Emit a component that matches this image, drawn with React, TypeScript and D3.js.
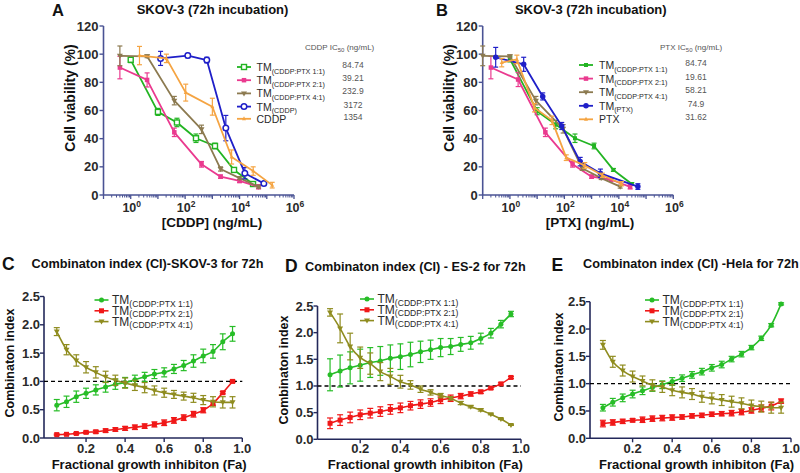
import React from 'react';
import * as d3 from 'd3';

const FONT = "'Liberation Sans', Arial, Helvetica, sans-serif";

// ---------------- Panel A: SKOV-3, [CDDP] (ng/mL) ----------------
const aConcTM11 = [1, 10, 50, 250, 1250, 6250, 31250];
const aViaTM11 = [96, 59, 51.5, 40.3, 34.8, 17.8, 7.8];
const aErrTM11 = [2, 2.5, 3, 3, 2, 1, 1];
const aConcTM21 = [0.4, 4, 40, 400, 2000, 10000, 50000];
const aViaTM21 = [90.5, 81.7, 44.5, 21.8, 13, 10, 5.8];
const aErrTM21 = [8, 5, 3, 2, 1.2, 1.2, 1.5];
const aConcTM41 = [0.4, 4, 40, 400, 2000, 10000, 50000];
const aViaTM41 = [98.8, 98.5, 67, 46.6, 18.5, 12, 5.9];
const aErrTM41 = [7, 1, 3, 3, 1.5, 1, 1];
const aConcTM = [12.5, 125, 625, 3125, 15625, 78125];
const aViaTM = [97, 99, 95.8, 47.5, 15.5, 8.2];
const aErrTM = [5, 1.5, 2, 9, 4, 1];
const aConcFree = [2.1, 20.5, 105, 1000, 5100, 31600, 158000];
const aViaFree = [99, 97, 72.7, 62.7, 27, 17, 7];
const aErrFree = [6.5, 3, 6, 6, 5, 3, 2];
const aLegendMain = ['TM', 'TM', 'TM', 'TM', 'CDDP'];
const aLegendSub = ['(CDDP:PTX 1:1)', '(CDDP:PTX 2:1)', '(CDDP:PTX 4:1)', '(CDDP)', ''];
const aIC50 = ['84.74', '39.21', '232.9', '3172', '1354'];

// ---------------- Panel B: SKOV-3, [PTX] (ng/mL) ----------------
const bConcTM11 = [1, 10, 48, 245, 1230, 6300, 30000];
const bViaTM11 = [96.5, 59.5, 50, 40.3, 34.8, 17.8, 7.8];
const bErrTM11 = [2, 2.5, 3, 3, 2, 1, 1];
const bConcTM21 = [0.2, 2, 20, 200, 1000, 5100, 26000];
const bViaTM21 = [90.5, 82, 44.5, 21.8, 13, 11, 5.8];
const bErrTM21 = [8, 5, 3, 2, 1.2, 1.2, 1.5];
const bConcTM41 = [0.1, 1, 9, 90, 450, 2250, 11200];
const bViaTM41 = [98.8, 98.5, 67, 47, 19, 12, 5.9];
const bErrTM41 = [7, 1, 3, 3, 1.5, 1, 1];
const bConcTM = [0.3, 3.2, 16, 80, 380, 2100, 50000];
const bViaTM = [97.8, 92.8, 70, 49, 23.7, 15.4, 6];
const bErrTM = [7, 5, 2.5, 2.5, 3, 3, 2];
const bConcFree = [0.5, 1.8, 8, 35, 117, 560, 2500, 12600];
const bViaFree = [94, 96.3, 62, 53, 26.5, 21, 14, 8];
const bErrFree = [3, 3, 3, 3, 2, 2, 1.5, 1.5];
const bLegendMain = ['TM', 'TM', 'TM', 'TM', 'PTX'];
const bLegendSub = ['(CDDP:PTX 1:1)', '(CDDP:PTX 2:1)', '(CDDP:PTX 4:1)', '(PTX)', ''];
const bIC50 = ['84.74', '19.61', '58.21', '74.9', '31.62'];

const viabilityTicks = [0, 20, 40, 60, 80, 100, 120];
const logLabelExps = [0, 2, 4, 6];

// ---------------- Panels C-E: combination index ----------------
const ciFa = [0.05, 0.1, 0.15, 0.2, 0.25, 0.3, 0.35, 0.4, 0.45, 0.5, 0.55, 0.6, 0.65, 0.7, 0.75, 0.8, 0.85, 0.9, 0.95];
const ciLegendSub = ['(CDDP:PTX 1:1)', '(CDDP:PTX 2:1)', '(CDDP:PTX 4:1)'];
const ciYTicks = [0, 0.5, 1, 1.5, 2, 2.5];
const ciXTicks = [0.2, 0.4, 0.6, 0.8, 1.0];

const cGreen = [0.58, 0.64, 0.73, 0.79, 0.85, 0.9, 0.95, 0.98, 1.03, 1.08, 1.13, 1.16, 1.22, 1.28, 1.36, 1.45, 1.53, 1.7, 1.84];
const cGreenErr = [0.1, 0.1, 0.1, 0.09, 0.09, 0.09, 0.09, 0.09, 0.08, 0.08, 0.08, 0.08, 0.08, 0.09, 0.11, 0.12, 0.12, 0.14, 0.13];
const cRed = [0.06, 0.065, 0.08, 0.1, 0.11, 0.13, 0.15, 0.17, 0.19, 0.21, 0.24, 0.27, 0.31, 0.36, 0.42, 0.49, 0.61, 0.8, 1.0];
const cRedErr = [0.01, 0.01, 0.015, 0.02, 0.025, 0.03, 0.03, 0.035, 0.04, 0.04, 0.045, 0.05, 0.05, 0.05, 0.05, 0.045, 0.03, 0.02, 0.02];
const cOlive = [1.88, 1.56, 1.37, 1.25, 1.16, 1.08, 1.02, 0.97, 0.93, 0.89, 0.84, 0.8, 0.77, 0.74, 0.71, 0.67, 0.64, 0.63, 0.63];
const cOliveErr = [0.07, 0.09, 0.1, 0.1, 0.1, 0.1, 0.09, 0.09, 0.09, 0.09, 0.08, 0.08, 0.07, 0.07, 0.08, 0.08, 0.09, 0.1, 0.1];

const dGreen = [1.21, 1.28, 1.34, 1.39, 1.44, 1.47, 1.52, 1.55, 1.59, 1.64, 1.68, 1.72, 1.74, 1.78, 1.81, 1.89, 1.99, 2.16, 2.35];
const dGreenErr = [0.3, 0.3, 0.3, 0.3, 0.28, 0.27, 0.25, 0.24, 0.23, 0.2, 0.18, 0.17, 0.15, 0.13, 0.12, 0.1, 0.09, 0.07, 0.05];
const dRed = [0.3, 0.36, 0.41, 0.46, 0.49, 0.52, 0.56, 0.59, 0.63, 0.66, 0.69, 0.74, 0.77, 0.81, 0.85, 0.89, 0.96, 1.04, 1.16];
const dRedErr = [0.1, 0.1, 0.1, 0.09, 0.09, 0.09, 0.09, 0.09, 0.08, 0.08, 0.07, 0.07, 0.06, 0.05, 0.04, 0.03, 0.02, 0.02, 0.02];
const dOlive = [2.38, 2.08, 1.74, 1.53, 1.42, 1.27, 1.18, 1.08, 1.02, 0.94, 0.88, 0.82, 0.77, 0.68, 0.61, 0.55, 0.47, 0.38, 0.27];
const dOliveErr = [0.07, 0.27, 0.25, 0.2, 0.2, 0.17, 0.15, 0.12, 0.08, 0.06, 0.05, 0.04, 0.03, 0.03, 0.02, 0.02, 0.01, 0.01, 0.01];

const eGreen = [0.56, 0.66, 0.74, 0.81, 0.87, 0.93, 0.98, 1.04, 1.1, 1.16, 1.22, 1.29, 1.35, 1.45, 1.54, 1.66, 1.83, 2.07, 2.46];
const eGreenErr = [0.06, 0.07, 0.07, 0.07, 0.07, 0.07, 0.07, 0.07, 0.06, 0.06, 0.06, 0.06, 0.06, 0.05, 0.05, 0.04, 0.04, 0.03, 0.02];
const eRed = [0.27, 0.29, 0.31, 0.33, 0.34, 0.36, 0.37, 0.38, 0.39, 0.41, 0.42, 0.44, 0.45, 0.46, 0.48, 0.51, 0.55, 0.59, 0.68];
const eRedErr = [0.06, 0.05, 0.04, 0.03, 0.05, 0.05, 0.05, 0.05, 0.04, 0.04, 0.04, 0.04, 0.04, 0.05, 0.05, 0.05, 0.06, 0.07, 0.04];
const eOlive = [1.71, 1.4, 1.24, 1.13, 1.05, 0.97, 0.94, 0.88, 0.84, 0.81, 0.76, 0.73, 0.7, 0.67, 0.64, 0.6, 0.58, 0.56, 0.56];
const eOliveErr = [0.08, 0.1, 0.1, 0.1, 0.09, 0.1, 0.1, 0.1, 0.1, 0.1, 0.1, 0.1, 0.1, 0.1, 0.1, 0.1, 0.1, 0.1, 0.1];

// ---------------- styling ----------------
const GREEN = '#22b422';
const MAGENTA = '#ea3a8f';
const BROWN = '#8c7a50';
const BLUE = '#1f1fc8';
const ORANGE = '#f5a442';
const CI_GREEN = '#27bd27';
const CI_RED = '#f01818';
const CI_OLIVE = '#8f8c1f';
const AXIS_AB = '#4a5394';
const AXIS_CE = '#23285a';
const TEXT = '#2a2a2a';

type MarkerKind = 'squareOpen' | 'square' | 'triDown' | 'circleOpen' | 'triUp' | 'circle';

function Marker({ kind, x, y, color, s }: { kind: MarkerKind; x: number; y: number; color: string; s: number }) {
  const h = s / 2;
  switch (kind) {
    case 'squareOpen':
      return <rect x={x - h} y={y - h} width={s} height={s} fill="#ffffff" stroke={color} strokeWidth={1.4} />;
    case 'square':
      return <rect x={x - h} y={y - h} width={s} height={s} fill={color} />;
    case 'triDown':
      return <path d={`M${x - h - 0.5},${y - h + 0.5}L${x + h + 0.5},${y - h + 0.5}L${x},${y + h + 0.5}Z`} fill={color} />;
    case 'triUp':
      return <path d={`M${x - h},${y + h - 0.5}L${x + h},${y + h - 0.5}L${x},${y - h - 0.5}Z`} fill={color} />;
    case 'circleOpen':
      return <circle cx={x} cy={y} r={h} fill="#ffffff" stroke={color} strokeWidth={1.5} />;
    case 'circle':
    default:
      return <circle cx={x} cy={y} r={h} fill={color} />;
  }
}

type Series = {
  xs: number[];
  ys: number[];
  errs: number[];
  color: string;
  marker: MarkerKind;
  size: number;
};

function SeriesMarks({ s, xScale, yScale, curve, width, cap }: {
  s: Series; xScale: (v: number) => number; yScale: (v: number) => number;
  curve: d3.CurveFactory; width: number; cap: number;
}) {
  const pts = s.xs.map((x, i) => [xScale(x), yScale(s.ys[i])] as [number, number]);
  const line = d3.line().curve(curve)(pts) || '';
  return (
    <g>
      <path d={line} fill="none" stroke={s.color} strokeWidth={width} strokeLinejoin="round" />
      {pts.map(([px], i) => {
        const lo = yScale(s.ys[i] - s.errs[i]);
        const hi = yScale(s.ys[i] + s.errs[i]);
        return (
          <g key={i} stroke={s.color} strokeWidth={1.2}>
            <line x1={px} x2={px} y1={lo} y2={hi} />
            <line x1={px - cap} x2={px + cap} y1={lo} y2={lo} />
            <line x1={px - cap} x2={px + cap} y1={hi} y2={hi} />
          </g>
        );
      })}
      {pts.map(([px, py], i) => (
        <Marker key={'m' + i} kind={s.marker} x={px} y={py} color={s.color} s={s.size} />
      ))}
    </g>
  );
}

function ViabilityPanel(props: {
  letter: string; letterX: number; titleX: number; axisLabel: string; axisLabelX: number;
  yLabelX: number; x0: number; x1: number; series: Series[];
  legendMain: string[]; legendSub: string[]; ic50: string[];
  legLineX: number; legTextX: number; legRows: number[]; icX: number; icHeader: string; icHeaderX: number;
}) {
  const { x0, x1 } = props;
  const x = d3.scaleLog().domain([0.1, 1e6]).range([x0, x1]);
  const y = d3.scaleLinear().domain([0, 120]).range([195, 26]);
  const minor: number[] = [];
  for (let k = -1; k < 6; k++) for (let m = 2; m <= 9; m++) minor.push(m * Math.pow(10, k));
  const decades = d3.range(-1, 7).map((k) => Math.pow(10, k));
  return (
    <g>
      <text x={props.letterX} y={15.5} fontSize={16.5} fontWeight="bold" fill="#111">{props.letter}</text>
      <text x={props.titleX} y={13.5} fontSize={13} fontWeight="bold" textAnchor="middle" fill="#111">SKOV-3 (72h incubation)</text>
      <line x1={x0} x2={x0} y1={y(0)} y2={y(120)} stroke={AXIS_AB} strokeWidth={1.6} />
      <line x1={x0} x2={x1} y1={y(0)} y2={y(0)} stroke={AXIS_AB} strokeWidth={1.6} />
      {viabilityTicks.map((t) => (
        <g key={t}>
          <line x1={x0 - 4} x2={x0} y1={y(t)} y2={y(t)} stroke={AXIS_AB} strokeWidth={1.4} />
          <text x={x0 - 5} y={y(t) + 4.5} fontSize={13} fontWeight="bold" textAnchor="end" fill={TEXT}>{t}</text>
        </g>
      ))}
      {decades.map((d, i) => (
        <line key={'d' + i} x1={x(d)} x2={x(d)} y1={y(0)} y2={y(0) + 4} stroke={AXIS_AB} strokeWidth={1.3} />
      ))}
      {minor.map((d, i) => (
        <line key={'n' + i} x1={x(d)} x2={x(d)} y1={y(0)} y2={y(0) + 2.5} stroke={AXIS_AB} strokeWidth={1} />
      ))}
      {logLabelExps.map((e) => (
        <text key={e} x={x(Math.pow(10, e)) + 1} y={212} fontSize={12.5} fontWeight="bold" textAnchor="middle" fill={TEXT}>
          10<tspan dy={-5} fontSize={8.5}>{e}</tspan>
        </text>
      ))}
      <text x={props.axisLabelX} y={227} fontSize={13.5} fontWeight="bold" textAnchor="middle" fill="#111">{props.axisLabel}</text>
      <text transform={`translate(${props.yLabelX},98) rotate(-90)`} fontSize={14} fontWeight="bold" textAnchor="middle" fill="#111">Cell viability (%)</text>
      {props.series.map((s, i) => (
        <SeriesMarks key={i} s={s} xScale={x} yScale={y} curve={d3.curveLinear} width={1.8} cap={2.5} />
      ))}
      <text x={props.icHeaderX} y={50} fontSize={8} fill="#555">
        {props.icHeader} IC<tspan dy={2} fontSize={6}>50</tspan><tspan dy={-2}> (ng/mL)</tspan>
      </text>
      {props.series.map((s, i) => {
        const ry = props.legRows[i];
        return (
          <g key={'l' + i}>
            <line x1={props.legLineX} x2={props.legLineX + 14} y1={ry} y2={ry} stroke={s.color} strokeWidth={1.8} />
            <Marker kind={s.marker} x={props.legLineX + 7} y={ry} color={s.color} s={s.size} />
            <text x={props.legTextX} y={ry + 4} fontSize={10.5} fill={TEXT}>
              {props.legendMain[i]}
              {props.legendSub[i] ? <tspan dy={2.5} fontSize={7.2}>{props.legendSub[i]}</tspan> : null}
            </text>
            <text x={props.icX} y={ry + 1} fontSize={8.5} textAnchor="middle" fill="#555">{props.ic50[i]}</text>
          </g>
        );
      })}
    </g>
  );
}

function CIPanel(props: {
  letter: string; letterX: number; letterY: number; title: string; titleX: number; titleY: number;
  axisX: number; xr: [number, number]; yr: [number, number]; yLabelX: number; yLabelY: number;
  series: Series[]; legLineX: number; legTop: number;
}) {
  const x = d3.scaleLinear().domain([0, 1]).range(props.xr);
  const y = d3.scaleLinear().domain([0, 2.5]).range(props.yr);
  const ax = props.axisX;
  const xLabelX = (ax + props.xr[1]) / 2 + 6;
  return (
    <g>
      <text x={props.letterX} y={props.letterY} fontSize={17.5} fontWeight="bold" fill="#111">{props.letter}</text>
      <text x={props.titleX} y={props.titleY} fontSize={12.7} fontWeight="bold" fill="#111">{props.title}</text>
      <line x1={ax} x2={ax} y1={y(0)} y2={y(2.5)} stroke={AXIS_CE} strokeWidth={1.6} />
      <line x1={ax} x2={x(1)} y1={y(0)} y2={y(0)} stroke={AXIS_CE} strokeWidth={1.6} />
      {ciYTicks.map((t) => (
        <g key={t}>
          <line x1={ax - 4} x2={ax} y1={y(t)} y2={y(t)} stroke={AXIS_CE} strokeWidth={1.4} />
          <text x={ax - 4} y={y(t) + 4.5} fontSize={13} fontWeight="bold" textAnchor="end" fill={TEXT}>{t.toFixed(1)}</text>
        </g>
      ))}
      {ciXTicks.map((t) => (
        <g key={t}>
          <line x1={x(t)} x2={x(t)} y1={y(0)} y2={y(0) + 4} stroke={AXIS_CE} strokeWidth={1.4} />
          <text x={x(t)} y={453} fontSize={13} fontWeight="bold" textAnchor="middle" fill={TEXT}>{t.toFixed(1)}</text>
        </g>
      ))}
      <text x={xLabelX} y={469} fontSize={13} fontWeight="bold" textAnchor="middle" fill="#111">Fractional growth inhibiton (Fa)</text>
      <text transform={`translate(${props.yLabelX},${props.yLabelY}) rotate(-90)`} fontSize={12.5} fontWeight="bold" textAnchor="middle" fill="#111">Combinaton index</text>
      <line x1={ax} x2={x(1)} y1={y(1)} y2={y(1)} stroke="#000" strokeWidth={1.4} strokeDasharray="4 3" />
      {props.series.map((s, i) => (
        <SeriesMarks key={i} s={s} xScale={x} yScale={y} curve={d3.curveMonotoneX} width={1.6} cap={3} />
      ))}
      {props.series.map((s, i) => {
        const ry = props.legTop + i * 10.8;
        return (
          <g key={'l' + i}>
            <line x1={props.legLineX} x2={props.legLineX + 14} y1={ry} y2={ry} stroke={s.color} strokeWidth={1.6} />
            <Marker kind={s.marker} x={props.legLineX + 7} y={ry} color={s.color} s={s.size} />
            <text x={props.legLineX + 17.5} y={ry + 4} fontSize={12} fill={TEXT}>
              TM<tspan dy={2.5} fontSize={8.6}>{ciLegendSub[i]}</tspan>
            </text>
          </g>
        );
      })}
    </g>
  );
}

function ciSeries(g: number[], ge: number[], r: number[], re: number[], o: number[], oe: number[]): Series[] {
  return [
    { xs: ciFa, ys: g, errs: ge, color: CI_GREEN, marker: 'circle', size: 5 },
    { xs: ciFa, ys: r, errs: re, color: CI_RED, marker: 'square', size: 5 },
    { xs: ciFa, ys: o, errs: oe, color: CI_OLIVE, marker: 'triDown', size: 5 },
  ];
}

export default function App() {
  const aSeries: Series[] = [
    { xs: aConcTM11, ys: aViaTM11, errs: aErrTM11, color: GREEN, marker: 'squareOpen', size: 5 },
    { xs: aConcTM21, ys: aViaTM21, errs: aErrTM21, color: MAGENTA, marker: 'square', size: 4.5 },
    { xs: aConcTM41, ys: aViaTM41, errs: aErrTM41, color: BROWN, marker: 'triDown', size: 5 },
    { xs: aConcTM, ys: aViaTM, errs: aErrTM, color: BLUE, marker: 'circleOpen', size: 5.5 },
    { xs: aConcFree, ys: aViaFree, errs: aErrFree, color: ORANGE, marker: 'triUp', size: 4 },
  ];
  const bSeries: Series[] = [
    { xs: bConcTM11, ys: bViaTM11, errs: bErrTM11, color: GREEN, marker: 'square', size: 4 },
    { xs: bConcTM21, ys: bViaTM21, errs: bErrTM21, color: MAGENTA, marker: 'square', size: 4.5 },
    { xs: bConcTM41, ys: bViaTM41, errs: bErrTM41, color: BROWN, marker: 'triDown', size: 5 },
    { xs: bConcTM, ys: bViaTM, errs: bErrTM, color: BLUE, marker: 'circle', size: 5.5 },
    { xs: bConcFree, ys: bViaFree, errs: bErrFree, color: ORANGE, marker: 'triUp', size: 4 },
  ];
  return (
    <svg width={800} height={473} viewBox="0 0 800 473"
      style={{ position: 'absolute', left: 0, top: 0, background: '#ffffff', fontFamily: FONT }}>
      <rect x={0} y={0} width={800} height={473} fill="#ffffff" />
      <ViabilityPanel letter="A" letterX={52} titleX={212.5} axisLabel="[CDDP] (ng/mL)" axisLabelX={212}
        yLabelX={75} x0={103.5} x1={294} series={aSeries}
        legendMain={aLegendMain} legendSub={aLegendSub} ic50={aIC50}
        legLineX={237} legTextX={256.5} legRows={[67, 80.2, 93.4, 106.6, 118.8]} icX={353}
        icHeader="CDDP" icHeaderX={305} />
      <ViabilityPanel letter="B" letterX={436} titleX={590.8} axisLabel="[PTX] (ng/mL)" axisLabelX={590}
        yLabelX={454} x0={482.7} x1={673.3} series={bSeries}
        legendMain={bLegendMain} legendSub={bLegendSub} ic50={bIC50}
        legLineX={579} legTextX={599} legRows={[65, 78.6, 92.2, 105.8, 119.3]} icX={696}
        icHeader="PTX" icHeaderX={660} />
      <CIPanel letter="C" letterX={2} letterY={270} title="Combinaton index (CI)-SKOV-3 for 72h" titleX={31.5} titleY={268}
        axisX={44} xr={[47, 242.3]} yr={[438, 296.5]} yLabelX={14} yLabelY={363}
        series={ciSeries(cGreen, cGreenErr, cRed, cRedErr, cOlive, cOliveErr)} legLineX={94.5} legTop={300} />
      <CIPanel letter="D" letterX={285} letterY={272} title="Combinaton index (CI) - ES-2 for 72h" titleX={305} titleY={271}
        axisX={317.5} xr={[320, 521]} yr={[439.3, 306]} yLabelX={287.5} yLabelY={370}
        series={ciSeries(dGreen, dGreenErr, dRed, dRedErr, dOlive, dOliveErr)} legLineX={360} legTop={299} />
      <CIPanel letter="E" letterX={551.5} letterY={271} title="Combinaton index (CI) -Hela for 72h" titleX={583} titleY={268}
        axisX={590} xr={[593, 791]} yr={[438.3, 301.7]} yLabelX={562.5} yLabelY={367}
        series={ciSeries(eGreen, eGreenErr, eRed, eRedErr, eOlive, eOliveErr)} legLineX={645} legTop={300} />
    </svg>
  );
}
